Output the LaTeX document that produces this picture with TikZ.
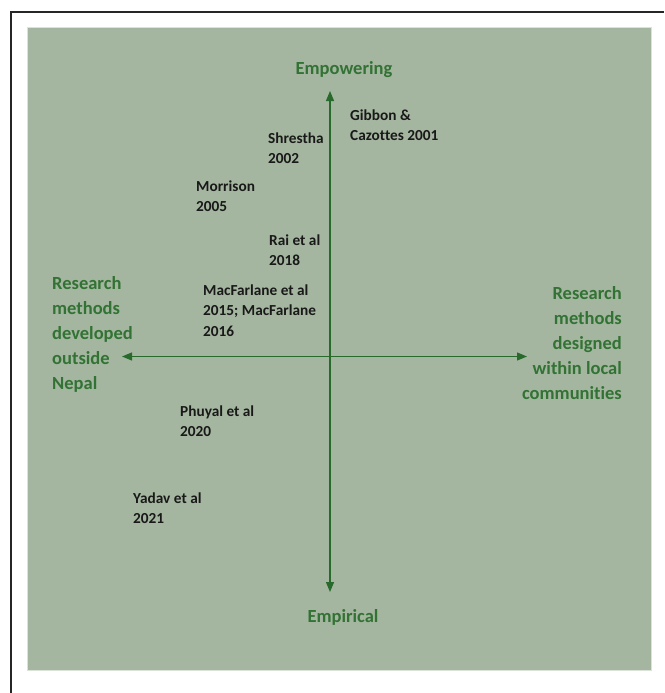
\documentclass[tikz,border=0pt]{standalone}
\usepackage{fontspec}
\setmainfont{Carlito}[Ligatures=NoCommon]
\usetikzlibrary{arrows.meta}
\definecolor{bggreen}{RGB}{164,182,159}
\definecolor{edgegrey}{RGB}{220,226,218}
\definecolor{labgreen}{RGB}{50,114,52}
\definecolor{axgreen}{RGB}{40,106,44}
\tikzset{
  ref/.style={inner sep=0pt, anchor=north west, align=left, text=black!90,
    font=\fontsize{15.3}{20.7}\selectfont\bfseries},
  axlab/.style={inner sep=0pt, text=labgreen,
    font=\fontsize{18.5}{25}\selectfont\bfseries},
  axis/.style={draw=axgreen, line width=1.2pt, {Triangle[length=10pt,width=8pt]}-{Triangle[length=10pt,width=8pt]}}
}
\begin{document}
\begin{tikzpicture}[x=1pt,y=-1pt]
\useasboundingbox (0,0) rectangle (664,693);
% outer frame (clipped at right and bottom)
\draw[line width=2pt, black!85] (11,693) -- (11,12.5) -- (664,12.5);
% green panel
\fill[bggreen] (27,28) rectangle (651,670);
\draw[edgegrey, line width=1pt] (27,28) rectangle (651,670);
% axes
\coordinate (top) at (330,91);
\coordinate (bot) at (330,592);
\coordinate (lft) at (122,356.5);
\coordinate (rgt) at (527,356.5);
\draw[axis] (bot) -- (top);
\draw[axis] (lft) -- (rgt);
% axis labels
\node[axlab, anchor=base] (emp) at (344,74.1) {\strut Empowering};
\node[axlab, anchor=base] (empi) at (343,622.1) {\strut Empirical};
\node[axlab, anchor=north west, align=left] (outside) at (52,271.6)
  {\strut Research\\\strut methods\\\strut developed\\\strut outside\\\strut Nepal};
\node[axlab, anchor=north east, align=right] (within) at (622,281.6)
  {\strut Research\\\strut methods\\\strut designed\\\strut within local\\\strut communities};
% references
\node[ref] (gibbon) at (350,105.5) {\strut Gibbon \&\\\strut Cazottes 2001};
\node[ref] (shrestha) at (268,128.5) {\strut Shrestha\\\strut 2002};
\node[ref] (morrison) at (196,176.5) {\strut Morrison\\\strut 2005};
\node[ref] (rai) at (269,230.5) {\strut Rai et al\\\strut 2018};
\node[ref] (macf) at (203,280.5) {\strut MacFarlane et al\\\strut 2015; MacFarlane\\\strut 2016};
\node[ref] (phuyal) at (180,401.5) {\strut Phuyal et al\\\strut 2020};
\node[ref] (yadav) at (133,488.5) {\strut Yadav et al\\\strut 2021};
\end{tikzpicture}
\end{document}
